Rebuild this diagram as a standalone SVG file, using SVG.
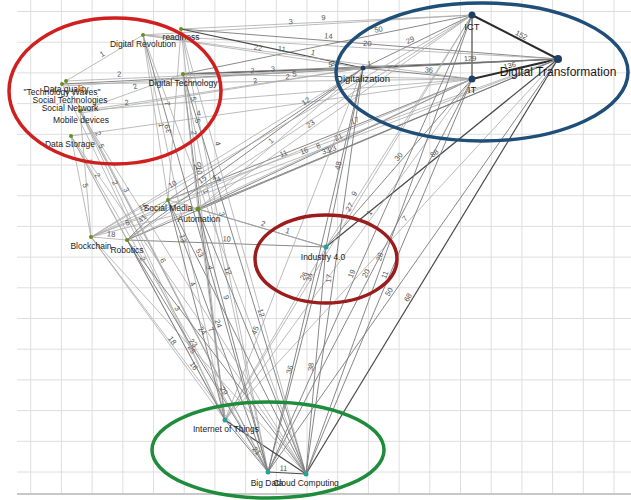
<svg xmlns="http://www.w3.org/2000/svg" width="631" height="500" viewBox="0 0 631 500">
<style>
.grid{stroke:#dedede;stroke-width:1;fill:none}
.k{stroke:#2b2b2b;stroke-width:2;fill:none}
.d{stroke:#4a4a4a;stroke-width:1.2;fill:none}
.m{stroke:#7a7a7a;stroke-width:0.9;fill:none}
.l{stroke:#ababab;stroke-width:0.8;fill:none}
.lb{font-family:"Liberation Sans",Arial,sans-serif;font-size:7.5px;fill:#555;text-anchor:middle}
.nl{font-family:"Liberation Sans",Arial,sans-serif;font-size:8.5px;fill:#222;text-anchor:middle}
.nm{font-family:"Liberation Sans",Arial,sans-serif;font-size:9.5px;fill:#1a1a1a;text-anchor:middle}
.nb{font-family:"Liberation Sans",Arial,sans-serif;font-size:12px;fill:#1a1a1a;text-anchor:middle}
.dg{fill:#6b8e23}
.db{fill:#1f3f66}
.dt{fill:#2aa198}
.ring{fill:none;stroke-width:3.5}
</style>
<rect width="631" height="500" fill="#ffffff"/>
<g id="grid">
<path class="grid" d="M30.7 0V494M61.4 0V494M92.1 0V494M122.8 0V494M153.5 0V494M184.2 0V494M214.9 0V494M245.6 0V494M276.3 0V494M307 0V494M337.7 0V494M368.4 0V494M399.1 0V494M429.8 0V494M460.5 0V494M491.2 0V494M521.9 0V494M552.6 0V494M583.3 0V494M614 0V494"/>
<path class="grid" d="M17 11.5H631M17 42.2H631M17 72.9H631M17 103.6H631M17 134.3H631M17 165H631M17 195.7H631M17 226.4H631M17 257.1H631M17 287.8H631M17 318.5H631M17 349.2H631M17 379.9H631M17 410.6H631M17 441.3H631M17 472H631"/>
<path d="M17 494H631" stroke="#c8c8c8" stroke-width="2" fill="none"/>
</g>
<g id="connectors">
<path id="e1" class="k" d="M472 15L558 59"/>
<path id="e2" class="k" d="M472 79L558 59"/>
<path id="e3" class="d" d="M472 79L472 15"/>
<path id="e4" class="d" d="M363 68L558 59"/>
<path id="e5" class="m" d="M363 68L472 15"/>
<path id="e6" class="m" d="M363 68L472 79"/>
<path id="e7" class="m" d="M183 74L472 15"/>
<path id="e8" class="l" d="M181 29L472 15"/>
<path id="e9" class="l" d="M143 35L472 15"/>
<path id="e10" class="m" d="M181 29L558 59"/>
<path id="e11" class="l" d="M143 35L558 59"/>
<path id="e12" class="d" d="M181 29L363 68"/>
<path id="e13" class="l" d="M143 35L363 68"/>
<path id="e14" class="l" d="M143 35L472 79"/>
<path id="e15" class="d" d="M183 74L363 68"/>
<path id="e16" class="l" d="M183 74L472 79"/>
<path id="e17" class="m" d="M183 74L558 59"/>
<path id="e18" class="l" d="M66 81L363 68"/>
<path id="e19" class="l" d="M62 84L472 79"/>
<path id="e20" class="m" d="M62 84L558 59"/>
<path id="e21" class="l" d="M64 86L363 68"/>
<path id="e22" class="l" d="M80 111L472 79"/>
<path id="e23" class="l" d="M80 111L363 68"/>
<path id="e24" class="l" d="M81 113L363 68"/>
<path id="e25" class="l" d="M71 136L472 79"/>
<path id="e26" class="l" d="M66 81L143 35"/>
<path id="e27" class="l" d="M80 111L183 74"/>
<path id="e28" class="m" d="M168 200L363 68"/>
<path id="e29" class="m" d="M168 200L472 79"/>
<path id="e30" class="l" d="M168 200L558 59"/>
<path id="e31" class="l" d="M198 209L363 68"/>
<path id="e32" class="m" d="M198 209L472 79"/>
<path id="e33" class="m" d="M198 209L558 59"/>
<path id="e34" class="l" d="M198 209L472 15"/>
<path id="e35" class="l" d="M91 237L363 68"/>
<path id="e36" class="l" d="M91 237L472 79"/>
<path id="e37" class="l" d="M91 237L558 59"/>
<path id="e38" class="m" d="M127 240L363 68"/>
<path id="e39" class="l" d="M127 240L472 79"/>
<path id="e40" class="m" d="M127 240L558 59"/>
<path id="e41" class="l" d="M127 240L472 15"/>
<path id="e42" class="l" d="M91 237L472 15"/>
<path id="e43" class="d" d="M326 247L558 59"/>
<path id="e44" class="m" d="M326 247L472 79"/>
<path id="e45" class="l" d="M326 247L472 15"/>
<path id="e46" class="m" d="M326 247L363 68"/>
<path id="e47" class="m" d="M198 209L326 247"/>
<path id="e48" class="m" d="M127 240L326 247"/>
<path id="e49" class="l" d="M168 200L326 247"/>
<path id="e51" class="m" d="M268 472L558 59"/>
<path id="e52" class="d" d="M306 474L558 59"/>
<path id="e53" class="l" d="M225 420L558 59"/>
<path id="e54" class="l" d="M225 420L472 15"/>
<path id="e55" class="l" d="M225 420L472 79"/>
<path id="e56" class="m" d="M268 472L472 79"/>
<path id="e57" class="m" d="M306 474L472 79"/>
<path id="e58" class="m" d="M268 472L472 15"/>
<path id="e59" class="m" d="M306 474L472 15"/>
<path id="e60" class="m" d="M268 472L363 68"/>
<path id="e61" class="m" d="M306 474L363 68"/>
<path id="e62" class="l" d="M225 420L363 68"/>
<path id="e63" class="m" d="M268 472L326 247"/>
<path id="e64" class="m" d="M306 474L326 247"/>
<path id="e65" class="l" d="M225 420L326 247"/>
<path id="e66" class="m" d="M225 420L268 472"/>
<path id="e67" class="d" d="M225 420L306 474"/>
<path id="e68" class="d" d="M268 472L306 474"/>
<path id="e69" class="l" d="M181 29L225 420"/>
<path id="e70" class="l" d="M181 29L268 472"/>
<path id="e71" class="l" d="M181 29L306 474"/>
<path id="e72" class="l" d="M143 35L225 420"/>
<path id="e73" class="m" d="M143 35L268 472"/>
<path id="e74" class="l" d="M143 35L306 474"/>
<path id="e75" class="m" d="M183 74L225 420"/>
<path id="e76" class="l" d="M183 74L268 472"/>
<path id="e77" class="m" d="M183 74L306 474"/>
<path id="e78" class="l" d="M66 81L268 472"/>
<path id="e79" class="l" d="M62 84L225 420"/>
<path id="e80" class="l" d="M80 111L225 420"/>
<path id="e81" class="l" d="M80 111L268 472"/>
<path id="e82" class="l" d="M81 113L306 474"/>
<path id="e83" class="l" d="M81 113L268 472"/>
<path id="e84" class="l" d="M71 136L225 420"/>
<path id="e85" class="l" d="M71 136L268 472"/>
<path id="e86" class="l" d="M71 136L306 474"/>
<path id="e87" class="m" d="M168 200L225 420"/>
<path id="e88" class="m" d="M168 200L268 472"/>
<path id="e89" class="m" d="M168 200L306 474"/>
<path id="e90" class="l" d="M198 209L225 420"/>
<path id="e91" class="m" d="M198 209L268 472"/>
<path id="e92" class="m" d="M198 209L306 474"/>
<path id="e93" class="l" d="M91 237L225 420"/>
<path id="e94" class="l" d="M91 237L268 472"/>
<path id="e95" class="l" d="M91 237L306 474"/>
<path id="e96" class="m" d="M127 240L225 420"/>
<path id="e97" class="m" d="M127 240L268 472"/>
<path id="e98" class="m" d="M127 240L306 474"/>
<path id="e99" class="l" d="M91 237L127 240"/>
<path id="e100" class="l" d="M91 237L168 200"/>
<path id="e101" class="m" d="M127 240L168 200"/>
<path id="e102" class="l" d="M91 237L198 209"/>
<path id="e103" class="l" d="M71 136L91 237"/>
<path id="e104" class="l" d="M71 136L127 240"/>
<path id="e105" class="l" d="M80 111L91 237"/>
<path id="e106" class="l" d="M143 35L168 200"/>
<path id="e107" class="l" d="M183 74L198 209"/>
<path id="e108" class="l" d="M168 200L181 29"/>
<g id="edge-labels">
<text class="lb" dy="-2"><textPath href="#e1" startOffset="55%">152</textPath></text>
<text class="lb" dy="-2"><textPath href="#e2" startOffset="45%">136</textPath></text>
<text class="lb" dy="-2"><textPath href="#e4" startOffset="55%">129</textPath></text>
<text class="lb" dy="-2"><textPath href="#e5" startOffset="45%">29</textPath></text>
<text class="lb" dy="-2"><textPath href="#e6" startOffset="60%">36</textPath></text>
<text class="lb" dy="-2"><textPath href="#e7" startOffset="68%">50</textPath></text>
<text class="lb" dy="-2"><textPath href="#e8" startOffset="49%">9</textPath></text>
<text class="lb" dy="-2"><textPath href="#e9" startOffset="45%">3</textPath></text>
<text class="lb" dy="-2"><textPath href="#e10" startOffset="39%">14</textPath></text>
<text class="lb" dy="-2"><textPath href="#e11" startOffset="54%">20</textPath></text>
<text class="lb" dy="-2"><textPath href="#e12" startOffset="72%">1</textPath></text>
<text class="lb" dy="-2"><textPath href="#e13" startOffset="52%">22</textPath></text>
<text class="lb" dy="-2"><textPath href="#e14" startOffset="42%">11</textPath></text>
<text class="lb" dy="-2"><textPath href="#e15" startOffset="82%">5</textPath></text>
<text class="lb" dy="-2"><textPath href="#e16" startOffset="24%">2</textPath></text>
<text class="lb" dy="-2"><textPath href="#e17" startOffset="40%">3</textPath></text>
<text class="lb" dy="-2"><textPath href="#e18" startOffset="18%">2</textPath></text>
<text class="lb" dy="-2"><textPath href="#e19" startOffset="55%">2</textPath></text>
<text class="lb" dy="-2"><textPath href="#e20" startOffset="62%">1</textPath></text>
<text class="lb" dy="-2"><textPath href="#e21" startOffset="70%">3</textPath></text>
<text class="lb" dy="-2"><textPath href="#e22" startOffset="12%">2</textPath></text>
<text class="lb" dy="-2"><textPath href="#e23" startOffset="76%">5</textPath></text>
<text class="lb" dy="-2"><textPath href="#e24" startOffset="62%">2</textPath></text>
<text class="lb" dy="-2"><textPath href="#e25" startOffset="32%">4</textPath></text>
<text class="lb" dy="-2"><textPath href="#e26" startOffset="50%">1</textPath></text>
<text class="lb" dy="-2"><textPath href="#e27" startOffset="55%">2</textPath></text>
<text class="lb" dy="-2"><textPath href="#e28" startOffset="72%">12</textPath></text>
<text class="lb" dy="-2"><textPath href="#e29" startOffset="62%">17</textPath></text>
<text class="lb" dy="-2"><textPath href="#e30" startOffset="30%">11</textPath></text>
<text class="lb" dy="-2"><textPath href="#e31" startOffset="46%">1</textPath></text>
<text class="lb" dy="-2"><textPath href="#e32" startOffset="52%">21</textPath></text>
<text class="lb" dy="-2"><textPath href="#e33" startOffset="36%">33</textPath></text>
<text class="lb" dy="-2"><textPath href="#e34" startOffset="42%">23</textPath></text>
<text class="lb" dy="-2"><textPath href="#e35" startOffset="40%">10</textPath></text>
<text class="lb" dy="-2"><textPath href="#e36" startOffset="34%">4</textPath></text>
<text class="lb" dy="-2"><textPath href="#e37" startOffset="46%">16</textPath></text>
<text class="lb" dy="-2"><textPath href="#e38" startOffset="33%">15</textPath></text>
<text class="lb" dy="-2"><textPath href="#e39" startOffset="56%">8</textPath></text>
<text class="lb" dy="-2"><textPath href="#e40" startOffset="48%">23</textPath></text>
<text class="lb" dy="-2"><textPath href="#e41" startOffset="26%">4</textPath></text>
<text class="lb" dy="-2"><textPath href="#e42" startOffset="22%">10</textPath></text>
<text class="lb" dy="-2"><textPath href="#e43" startOffset="48%">88</textPath></text>
<text class="lb" dy="-2"><textPath href="#e44" startOffset="52%">30</textPath></text>
<text class="lb" dy="-2"><textPath href="#e45" startOffset="22%">9</textPath></text>
<text class="lb" dy="-2"><textPath href="#e46" startOffset="45%">48</textPath></text>
<text class="lb" dy="-2"><textPath href="#e47" startOffset="50%">2</textPath></text>
<text class="lb" dy="-2"><textPath href="#e48" startOffset="50%">10</textPath></text>
<text class="lb" dy="-2"><textPath href="#e49" startOffset="75%">1</textPath></text>
<text class="lb" dy="-2"><textPath href="#e51" startOffset="43%">50</textPath></text>
<text class="lb" dy="-2"><textPath href="#e52" startOffset="42%">68</textPath></text>
<text class="lb" dy="-2"><textPath href="#e53" startOffset="55%">7</textPath></text>
<text class="lb" dy="-2"><textPath href="#e54" startOffset="52%">27</textPath></text>
<text class="lb" dy="-2"><textPath href="#e55" startOffset="60%">1</textPath></text>
<text class="lb" dy="-2"><textPath href="#e56" startOffset="50%">20</textPath></text>
<text class="lb" dy="-2"><textPath href="#e57" startOffset="50%">11</textPath></text>
<text class="lb" dy="-2"><textPath href="#e58" startOffset="43%">19</textPath></text>
<text class="lb" dy="-2"><textPath href="#e59" startOffset="47%">28</textPath></text>
<text class="lb" dy="-2"><textPath href="#e60" startOffset="48%">34</textPath></text>
<text class="lb" dy="-2"><textPath href="#e61" startOffset="48%">17</textPath></text>
<text class="lb" dy="-2"><textPath href="#e62" startOffset="25%">45</textPath></text>
<text class="lb" dy="-2"><textPath href="#e63" startOffset="45%">36</textPath></text>
<text class="lb" dy="-2"><textPath href="#e64" startOffset="47%">38</textPath></text>
<text class="lb" dy="-2"><textPath href="#e65" startOffset="82%">26</textPath></text>
<text class="lb" dy="-2"><textPath href="#e66" startOffset="65%">21</textPath></text>
<text class="lb" dy="-2"><textPath href="#e68" startOffset="40%">11</textPath></text>
<text class="lb" dy="-2"><textPath href="#e69" startOffset="18%">5</textPath></text>
<text class="lb" dy="-2"><textPath href="#e70" startOffset="42%">3</textPath></text>
<text class="lb" dy="-2"><textPath href="#e71" startOffset="26%">4</textPath></text>
<text class="lb" dy="-2"><textPath href="#e72" startOffset="24%">6</textPath></text>
<text class="lb" dy="-2"><textPath href="#e73" startOffset="16%">7</textPath></text>
<text class="lb" dy="-2"><textPath href="#e74" startOffset="36%">1</textPath></text>
<text class="lb" dy="-2"><textPath href="#e75" startOffset="28%">10</textPath></text>
<text class="lb" dy="-2"><textPath href="#e76" startOffset="12%">5</textPath></text>
<text class="lb" dy="-2"><textPath href="#e77" startOffset="60%">12</textPath></text>
<text class="lb" dy="-2"><textPath href="#e78" startOffset="14%">2</textPath></text>
<text class="lb" dy="-2"><textPath href="#e79" startOffset="30%">2</textPath></text>
<text class="lb" dy="-2"><textPath href="#e80" startOffset="12%">5</textPath></text>
<text class="lb" dy="-2"><textPath href="#e81" startOffset="42%">6</textPath></text>
<text class="lb" dy="-2"><textPath href="#e82" startOffset="48%">4</textPath></text>
<text class="lb" dy="-2"><textPath href="#e83" startOffset="22%">3</textPath></text>
<text class="lb" dy="-2"><textPath href="#e84" startOffset="44%">2</textPath></text>
<text class="lb" dy="-2"><textPath href="#e85" startOffset="52%">3</textPath></text>
<text class="lb" dy="-2"><textPath href="#e86" startOffset="58%">7</textPath></text>
<text class="lb" dy="-2"><textPath href="#e87" startOffset="18%">13</textPath></text>
<text class="lb" dy="-2"><textPath href="#e88" startOffset="46%">24</textPath></text>
<text class="lb" dy="-2"><textPath href="#e89" startOffset="20%">53</textPath></text>
<text class="lb" dy="-2"><textPath href="#e90" startOffset="28%">4</textPath></text>
<text class="lb" dy="-2"><textPath href="#e91" startOffset="34%">9</textPath></text>
<text class="lb" dy="-2"><textPath href="#e92" startOffset="24%">12</textPath></text>
<text class="lb" dy="-2"><textPath href="#e93" startOffset="58%">18</textPath></text>
<text class="lb" dy="-2"><textPath href="#e94" startOffset="56%">16</textPath></text>
<text class="lb" dy="-2"><textPath href="#e95" startOffset="46%">23</textPath></text>
<text class="lb" dy="-2"><textPath href="#e96" startOffset="62%">25</textPath></text>
<text class="lb" dy="-2"><textPath href="#e97" startOffset="66%">29</textPath></text>
<text class="lb" dy="-2"><textPath href="#e98" startOffset="40%">24</textPath></text>
<text class="lb" dy="-2"><textPath href="#e99" startOffset="55%">18</textPath></text>
<text class="lb" dy="-2"><textPath href="#e100" startOffset="70%">15</textPath></text>
<text class="lb" dy="-2"><textPath href="#e101" startOffset="45%">41</textPath></text>
<text class="lb" dy="-2"><textPath href="#e102" startOffset="35%">5</textPath></text>
<text class="lb" dy="-2"><textPath href="#e103" startOffset="50%">5</textPath></text>
<text class="lb" dy="-2"><textPath href="#e104" startOffset="40%">2</textPath></text>
<text class="lb" dy="-2"><textPath href="#e105" startOffset="40%">7</textPath></text>
<text class="lb" dy="-2"><textPath href="#e106" startOffset="55%">1</textPath></text>
<text class="lb" dy="-2"><textPath href="#e107" startOffset="44%">2</textPath></text>
<text class="lb" dy="-2"><textPath href="#e108" startOffset="40%">3</textPath></text>
</g>
</g>
<g id="n-readiness"><circle class="dg" cx="181" cy="29" r="2"/><text class="nl" x="181" y="40">readiness</text></g>
<g id="n-digital-revolution"><circle class="dg" cx="143" cy="35" r="2"/><text class="nl" x="143" y="47">Digital Revolution</text></g>
<g id="n-digital-technology"><circle class="dg" cx="183" cy="74" r="2"/><text class="nl" x="183" y="86">Digital Technology</text></g>
<g id="n-data-quality"><circle class="dg" cx="66" cy="81" r="2"/><text class="nl" x="66" y="92">Data quality</text></g>
<g id="n-technology-waves"><circle class="dg" cx="62" cy="84" r="2"/><text class="nl" x="62" y="95">"Technology Waves"</text></g>
<g id="n-social-technologies"><text class="nl" x="70" y="103">Social Technologies</text></g>
<g id="n-social-network"><circle class="dg" cx="80" cy="111" r="2"/><text class="nl" x="70" y="111">Social Network</text></g>
<g id="n-mobile-devices"><text class="nl" x="81" y="123">Mobile devices</text></g>
<g id="n-data-storage"><circle class="dg" cx="71" cy="136" r="2"/><text class="nl" x="70" y="147">Data Storage</text></g>
<g id="n-digitalization"><circle class="db" cx="363" cy="68" r="2.5"/><text class="nm" x="363" y="82">Digitalization</text></g>
<g id="n-ict"><circle class="db" cx="472" cy="15" r="3.5"/><text class="nm" x="472" y="30">ICT</text></g>
<g id="n-it"><circle class="db" cx="472" cy="79" r="3.5"/><text class="nm" x="472" y="93">IT</text></g>
<g id="n-digital-transformation"><circle class="db" cx="558" cy="59" r="4"/><text class="nb" x="558" y="76">Digital Transformation</text></g>
<g id="n-social-media"><circle class="dg" cx="168" cy="200" r="2"/><text class="nl" x="168" y="211">Social Media</text></g>
<g id="n-automation"><circle class="dg" cx="198" cy="209" r="2.5"/><text class="nl" x="199" y="222">Automation</text></g>
<g id="n-blockchain"><circle class="dg" cx="91" cy="237" r="2"/><text class="nl" x="91" y="249">Blockchain</text></g>
<g id="n-robotics"><circle class="dg" cx="127" cy="240" r="2"/><text class="nl" x="127" y="253">Robotics</text></g>
<g id="n-industry-40"><circle class="dt" cx="326" cy="247" r="2.5"/><text class="nl" x="323" y="260">Industry 4.0</text></g>
<g id="n-iot"><circle class="dt" cx="225" cy="420" r="2.5"/><text class="nl" x="226" y="432">Internet of Things</text></g>
<g id="n-big-data"><circle class="dt" cx="268" cy="472" r="2.5"/><text class="nl" x="267" y="486">Big Data</text></g>
<g id="n-cloud-computing"><circle class="dt" cx="306" cy="474" r="2.5"/><text class="nl" x="306" y="486">Cloud Computing</text></g>
<g id="groups">
<ellipse class="ring" cx="115" cy="91" rx="106" ry="73" stroke="#d01f1f"/>
<ellipse class="ring" cx="482" cy="72" rx="146" ry="69" stroke="#1f4e79"/>
<ellipse class="ring" cx="326" cy="259" rx="71" ry="44" stroke="#9c1b1b"/>
<ellipse class="ring" cx="268" cy="450" rx="116" ry="48" stroke="#1e8c3a"/>
</g>
</svg>
